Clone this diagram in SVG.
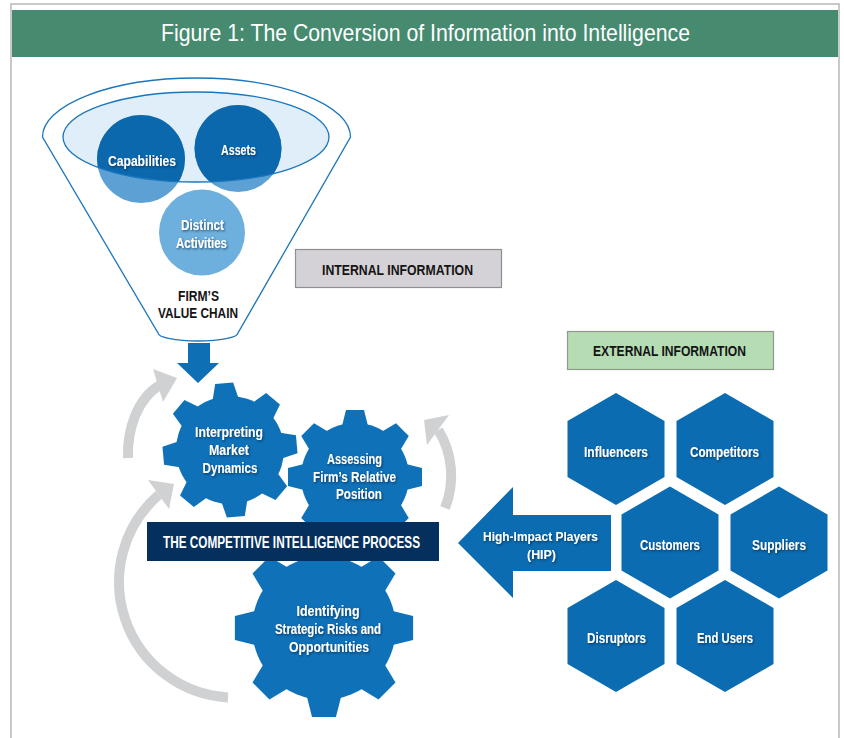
<svg xmlns="http://www.w3.org/2000/svg" xmlns:xlink="http://www.w3.org/1999/xlink" width="844" height="738" viewBox="0 0 844 738">
<style>
.t{font-family:'Liberation Sans Narrow','Liberation Sans',Arial,sans-serif;font-weight:bold;text-anchor:middle}
.w{fill:#ffffff;font-size:14.5px}
.k{fill:#141414;font-size:14px}
.gear{fill:#0f71b8}
.hex{fill:#0b6cb2}
.arc{fill:none;stroke:#d0d1d3;stroke-width:10}
.head{fill:#d0d1d3}
</style>
<defs>
<filter id="ts" x="-10%" y="-30%" width="120%" height="160%">
<feDropShadow dx="1" dy="1.2" stdDeviation="0.8" flood-color="#00203f" flood-opacity="0.7"/>
</filter>
<polygon id="tooth" points="47,-14 67,-9 67,9 47,14"/>
<g id="gearShape">
<circle r="54"/>
<use xlink:href="#tooth"/>
<use xlink:href="#tooth" transform="rotate(45)"/>
<use xlink:href="#tooth" transform="rotate(90)"/>
<use xlink:href="#tooth" transform="rotate(135)"/>
<use xlink:href="#tooth" transform="rotate(180)"/>
<use xlink:href="#tooth" transform="rotate(225)"/>
<use xlink:href="#tooth" transform="rotate(270)"/>
<use xlink:href="#tooth" transform="rotate(315)"/>
</g>
<polygon id="hexShape" points="0,-56 48.5,-28 48.5,28 0,56 -48.5,28 -48.5,-28"/>
<clipPath id="innerClip"><ellipse cx="196" cy="137" rx="133" ry="45"/></clipPath>
</defs>

<!-- frame and title -->
<rect x="11" y="4" width="828" height="740" fill="#ffffff" stroke="#c9c9c9" stroke-width="2"/>
<g id="title">
<rect x="12" y="10" width="826" height="47" fill="#468a6f"/>
<text x="425.5" y="41" font-family="'Liberation Sans Narrow','Liberation Sans',Arial,sans-serif" font-size="24" fill="#ffffff" text-anchor="middle" textLength="529" lengthAdjust="spacingAndGlyphs">Figure 1: The Conversion of Information into Intelligence</text>
</g>

<!-- funnel -->
<g id="funnel">
<path d="M42.5,137 A154,59 0 0 1 350.5,137 L238,333 A40,8 0 0 1 158,333 Z" fill="#ffffff" stroke="#1b76bc" stroke-width="1.3"/>
<ellipse cx="196" cy="137" rx="133" ry="45" fill="#dfeef8"/>
</g>

<g id="node-capabilities">
<circle cx="141" cy="159" r="44" fill="#5da0d4"/>
<circle cx="141" cy="159" r="44" fill="#0b68ad" clip-path="url(#innerClip)"/>
</g>
<g id="node-assets">
<circle cx="238" cy="148.5" r="43.5" fill="#5da0d4"/>
<circle cx="238" cy="148.5" r="43.5" fill="#0b68ad" clip-path="url(#innerClip)"/>
</g>
<ellipse cx="196" cy="137" rx="133" ry="45" fill="none" stroke="#1b76bc" stroke-width="1.3"/>
<g id="node-distinct">
<circle cx="202" cy="232.5" r="43" fill="#6eb0dd"/>
</g>
<g filter="url(#ts)">
<text class="t w" x="142" y="166" textLength="68" lengthAdjust="spacingAndGlyphs">Capabilities</text>
<text class="t w" x="238.5" y="155" textLength="35" lengthAdjust="spacingAndGlyphs">Assets</text>
<text class="t w" x="202.5" y="230" textLength="43" lengthAdjust="spacingAndGlyphs">Distinct</text>
<text class="t w" x="201.5" y="248" textLength="51" lengthAdjust="spacingAndGlyphs">Activities</text>
</g>
<g id="label-value-chain">
<text class="t k" x="198.5" y="301" textLength="41" lengthAdjust="spacingAndGlyphs">FIRM’S</text>
<text class="t k" x="198" y="318" textLength="80" lengthAdjust="spacingAndGlyphs">VALUE CHAIN</text>
</g>

<g id="node-internal">
<rect x="295.5" y="249.5" width="206" height="38" fill="#d4d2d6" stroke="#8f8f8f" stroke-width="1.2"/>
<text class="t k" x="397.5" y="275" textLength="151" lengthAdjust="spacingAndGlyphs">INTERNAL INFORMATION</text>
</g>
<g id="node-external">
<rect x="567.5" y="331.5" width="206" height="38" fill="#b6dcb4" stroke="#8f9a8f" stroke-width="1.2"/>
<text class="t k" x="669.5" y="356" textLength="153" lengthAdjust="spacingAndGlyphs">EXTERNAL INFORMATION</text>
</g>

<!-- connectors -->
<g id="connectors">
<path class="arc" d="M128,458 C127,428 138,398 160,385"/>
<polygon class="head" points="153,369 177,378 163,402"/>
<path class="arc" d="M228,697.5 A115.7,115.7 0 0 1 158.8,494.7"/>
<polygon class="head" points="148,480 174,484 169,509"/>
<path class="arc" d="M445,508 A87.5,87.5 0 0 0 438.3,430"/>
<polygon class="head" points="449,415 424,420 427,445"/>
<polygon points="188,343 210,343 210,363 219,363 198,383 177,363 188,363" fill="#0f6fb5"/>
</g>

<!-- gears -->
<g id="node-assessing">
<use xlink:href="#gearShape" class="gear" transform="translate(355,477)"/>
<g filter="url(#ts)">
<text class="t w" x="354.5" y="464" textLength="55" lengthAdjust="spacingAndGlyphs">Assessing</text>
<text class="t w" x="354.5" y="482" textLength="83" lengthAdjust="spacingAndGlyphs">Firm’s Relative</text>
<text class="t w" x="359" y="499" textLength="46" lengthAdjust="spacingAndGlyphs">Position</text>
</g>
</g>
<g id="node-interpreting">
<use xlink:href="#gearShape" class="gear" transform="translate(230,450) rotate(-5)"/>
<g filter="url(#ts)">
<text class="t w" x="229" y="437" textLength="68" lengthAdjust="spacingAndGlyphs">Interpreting</text>
<text class="t w" x="229" y="455" textLength="40" lengthAdjust="spacingAndGlyphs">Market</text>
<text class="t w" x="230" y="473" textLength="55" lengthAdjust="spacingAndGlyphs">Dynamics</text>
</g>
</g>
<g id="node-identifying">
<use xlink:href="#gearShape" class="gear" transform="translate(324,628) scale(1.33)"/>
<g filter="url(#ts)">
<text class="t w" x="328" y="616" textLength="63" lengthAdjust="spacingAndGlyphs">Identifying</text>
<text class="t w" x="328" y="634" textLength="106" lengthAdjust="spacingAndGlyphs">Strategic Risks and</text>
<text class="t w" x="329" y="652" textLength="80" lengthAdjust="spacingAndGlyphs">Opportunities</text>
</g>
</g>
<g id="node-process">
<rect x="147" y="522" width="292" height="39" fill="#05305e"/>
<text class="t" x="291.5" y="548" font-size="16" fill="#ffffff" textLength="257" lengthAdjust="spacingAndGlyphs">THE COMPETITIVE INTELLIGENCE PROCESS</text>
</g>

<!-- HIP arrow -->
<g id="node-hip">
<polygon points="458,543 513,487 513,515 611,515 611,571 513,571 513,598" fill="#0b6cb2"/>
<g filter="url(#ts)">
<text class="t" x="540.5" y="541" font-size="13.5" fill="#ffffff" textLength="115" lengthAdjust="spacingAndGlyphs">High-Impact Players</text>
<text class="t" x="541.5" y="558.5" font-size="13.5" fill="#ffffff" textLength="29" lengthAdjust="spacingAndGlyphs">(HIP)</text>
</g>
</g>

<!-- hexagons -->
<g id="node-influencers">
<use xlink:href="#hexShape" class="hex" transform="translate(616,449)"/>
<text class="t w" x="616" y="457" textLength="64" lengthAdjust="spacingAndGlyphs" filter="url(#ts)">Influencers</text>
</g>
<g id="node-competitors">
<use xlink:href="#hexShape" class="hex" transform="translate(725,449)"/>
<text class="t w" x="724.5" y="457" textLength="69" lengthAdjust="spacingAndGlyphs" filter="url(#ts)">Competitors</text>
</g>
<g id="node-customers">
<use xlink:href="#hexShape" class="hex" transform="translate(670,542.5)"/>
<text class="t w" x="670" y="550" textLength="60" lengthAdjust="spacingAndGlyphs" filter="url(#ts)">Customers</text>
</g>
<g id="node-suppliers">
<use xlink:href="#hexShape" class="hex" transform="translate(779,542.5)"/>
<text class="t w" x="779" y="550" textLength="54" lengthAdjust="spacingAndGlyphs" filter="url(#ts)">Suppliers</text>
</g>
<g id="node-disruptors">
<use xlink:href="#hexShape" class="hex" transform="translate(616,636)"/>
<text class="t w" x="616.5" y="643" textLength="59" lengthAdjust="spacingAndGlyphs" filter="url(#ts)">Disruptors</text>
</g>
<g id="node-endusers">
<use xlink:href="#hexShape" class="hex" transform="translate(725,636)"/>
<text class="t w" x="725" y="643" textLength="56" lengthAdjust="spacingAndGlyphs" filter="url(#ts)">End Users</text>
</g>
</svg>
